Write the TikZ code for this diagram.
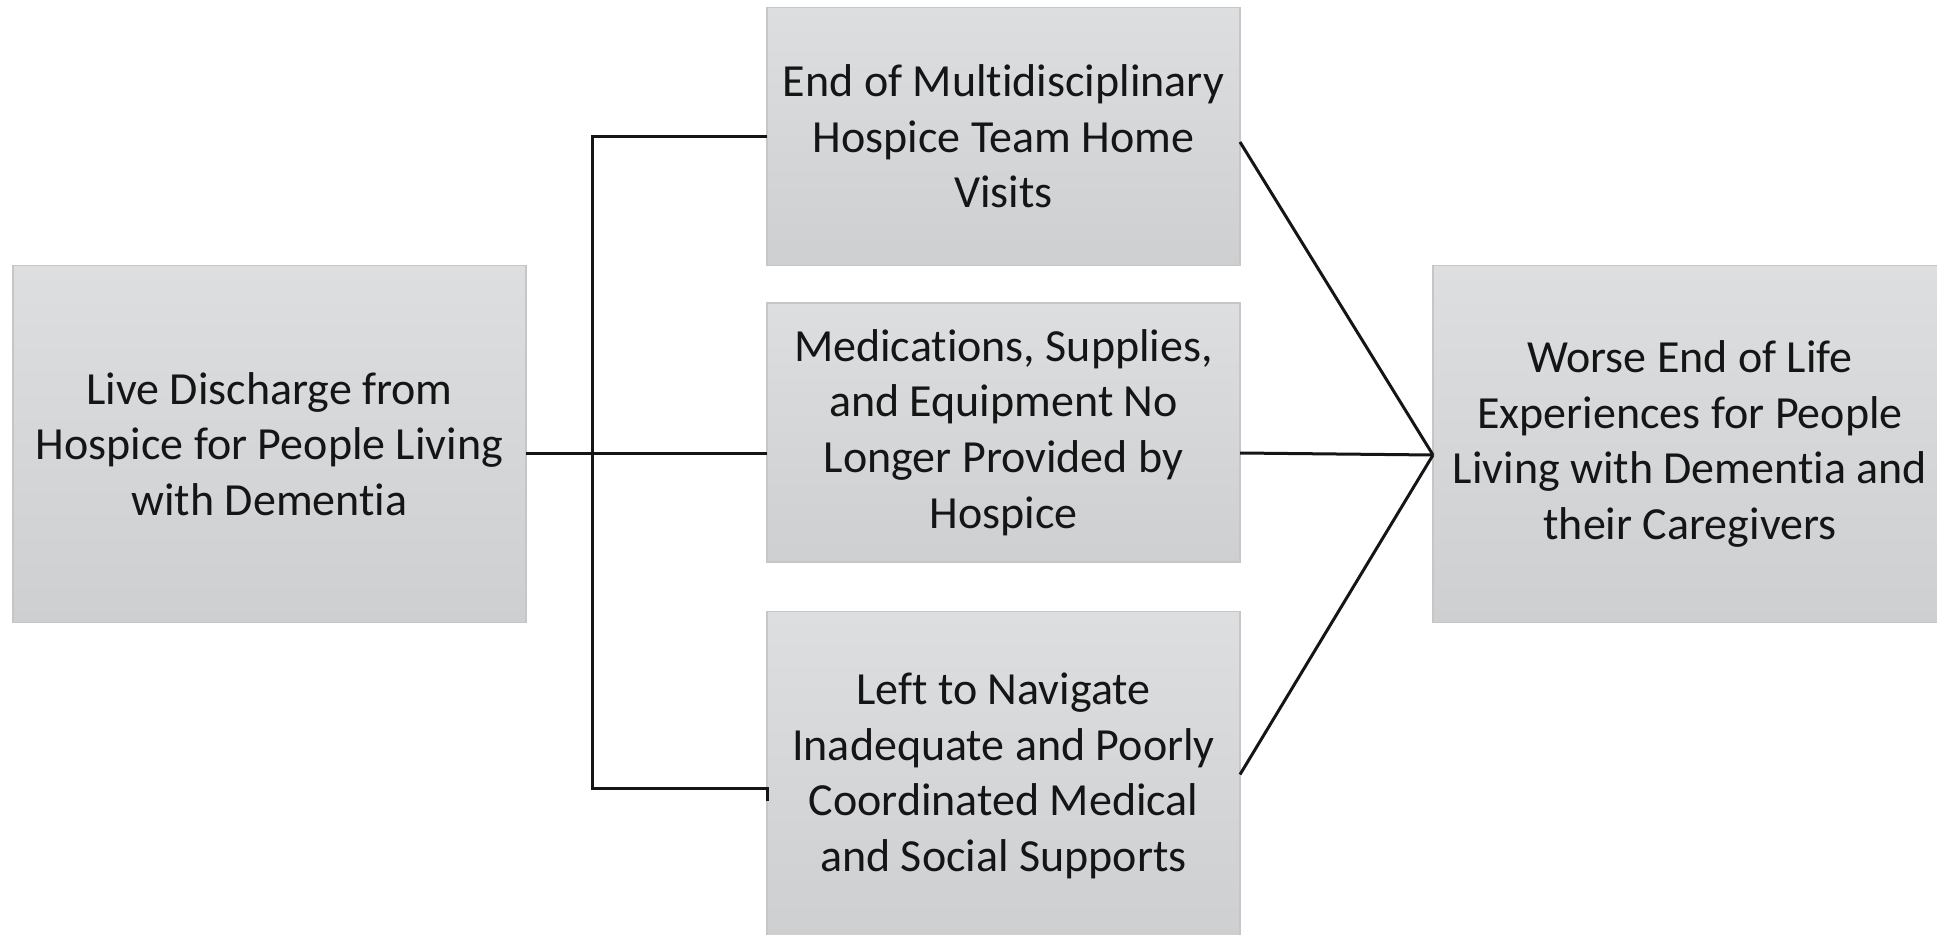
\documentclass[tikz,border=0pt]{standalone}
\usepackage{fontspec}
\setmainfont{Carlito}[Ligatures=NoCommon]
\usepackage{xcolor}
\usepackage{tikz}
\usetikzlibrary{calc}
\definecolor{boxtop}{HTML}{DDDEE0}
\definecolor{boxbot}{HTML}{CECFD1}
\definecolor{boxline}{HTML}{C6C6C8}
\definecolor{ink}{HTML}{151515}

\begin{document}
\begin{tikzpicture}[x=0.5pt,y=-0.5pt,
        box/.style={rectangle, top color=boxtop, bottom color=boxbot, draw=boxline, line width=0.6pt,
            outer sep=0pt, inner sep=0pt, align=center, text=ink, font=\fontsize{23}{27.8}\selectfont},
        link/.style={line width=1.5pt, draw=ink}]
        \useasboundingbox (0,0) rectangle (1937,935);
        \clip (0,0) rectangle (1937,935);
        \node[box, minimum width=256.5pt, minimum height=178.5pt] (live) at (269.5,444)
            {Live Discharge from\\Hospice for People Living\\with Dementia};
        \node[box, minimum width=236.5pt, minimum height=129.25pt] (visits) at (1003.5,136.5)
            {End of Multidisciplinary\\Hospice Team Home\\Visits};
        \node[box, minimum width=236.5pt, minimum height=129.5pt] (meds) at (1003.5,432.5)
            {Medications, Supplies,\\and Equipment No\\Longer Provided by\\Hospice};
        \node[box, minimum width=236.5pt, minimum height=164.5pt] (navigate) at (1003.5,776)
            {Left to Navigate\\Inadequate and Poorly\\Coordinated Medical\\and Social Supports};
        \node[box, minimum width=257pt, minimum height=178.5pt] (worse) at (1690,444)
            {Worse End of Life\\Experiences for People\\Living with Dementia and\\their Caregivers};
        % left side
        \coordinate (spine) at (592,453);
        \draw[link] (live.east |- spine) -- (meds.west |- spine);
        \draw[link] (visits.west) -| (spine);
        \draw[link] (spine) |- ($(navigate.west)+(0,12)$) -- ($(navigate.west)+(0,25)$);
        % right side
        \coordinate (sink) at ($(worse.west)+(0,11)$);
        \draw[link] ($(visits.east)+(0,5.5)$) -- (sink);
        \draw[link] (meds.east |- spine) -- (sink);
        \draw[link] ($(navigate.east)+(0,-1.5)$) -- (sink);
    \end{tikzpicture}
\end{document}
